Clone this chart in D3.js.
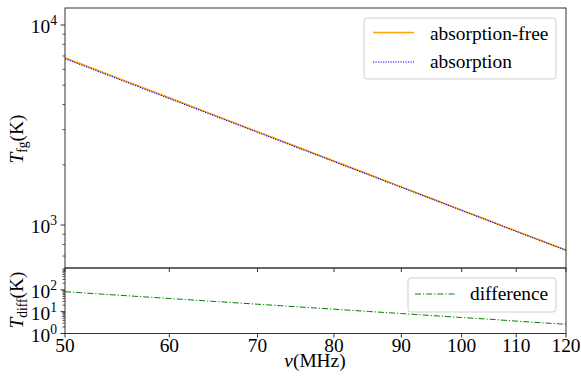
<!DOCTYPE html>
<html>
<head>
  <meta charset="UTF-8">
  <title>Foreground temperature</title>
  <script src="https://d3js.org/d3.v7.min.js"></script>
</head>
<body style="margin:0">
<script>
  // Data
  const freqs = [50, 55, 60, 65, 70, 75, 80, 85, 90, 95, 100, 105, 110, 115, 120];
  const tFree = [6864, 5394, 4328, 3534, 2930, 2461, 2090, 1793, 1551, 1353, 1188, 1050, 933, 835, 750];
  const tAbs = [6782, 5337.6, 4287.9, 3504.7, 2908.1, 2444.3, 2077, 1782.8, 1542.8, 1346.4, 1182.6, 1045.5, 929.3, 831.9, 747.35];
  const tDiff = [82, 56.4, 40.1, 29.3, 21.9, 16.7, 13.0, 10.2, 8.2, 6.6, 5.4, 4.5, 3.7, 3.1, 2.65];
  const xTicks = [50, 60, 70, 80, 90, 100, 110, 120];
  const topMajor = [1000, 10000];
  const bottomMajor = [1, 10, 100];
  const seriesNames = ["absorption-free", "absorption", "difference"];

  const width = 581, height = 379;
  const left = 65, right = 566;
  const topPanel = {y0: 8, y1: 268};
  const botPanel = {y0: 268, y1: 333.5};
  const FONT = '"Liberation Serif"';
  const FS = 19.4;
  const BLUE_DASH = "1.2,1.3";

  const svg = d3.select("body").append("svg")
    .attr("width", width)
    .attr("height", height);

  function txt(parent, xPos, yPos, size) {
    return parent.append("text")
      .attr("x", xPos).attr("y", yPos)
      .style("font-family", FONT)
      .attr("font-size", size);
  }

  const x = d3.scaleLog().domain([50, 120]).range([left, right]);
  const yTop = d3.scaleLog().domain([610, 12160]).range([topPanel.y1, topPanel.y0]);
  const yBot = d3.scaleLog().domain([1, 1000]).range([botPanel.y1, botPanel.y0]);

  // minor ticks for log axes
  function minorTicks(domain) {
    const out = [];
    for (let e = -1; e < 6; e++) {
      for (let m = 2; m < 10; m++) {
        const v = m * Math.pow(10, e);
        if (v >= domain[0] && v <= domain[1]) out.push(v);
      }
    }
    return out;
  }

  function drawPanel(y, panel, majors, showX) {
    const g = svg.append("g");
    g.selectAll(".ymin").data(minorTicks(y.domain())).enter().append("line")
      .attr("x1", left - 2.5).attr("x2", left)
      .attr("y1", d => y(d)).attr("y2", d => y(d))
      .attr("stroke", "#000").attr("stroke-width", 0.7);
    g.selectAll(".ymaj").data(majors).enter().append("line")
      .attr("x1", left - 4.5).attr("x2", left)
      .attr("y1", d => y(d)).attr("y2", d => y(d))
      .attr("stroke", "#000").attr("stroke-width", 0.8);
    majors.forEach(v => {
      const t = txt(g, left - 8, y(v) + 8, FS).attr("text-anchor", "end");
      t.append("tspan").text("10");
      t.append("tspan").attr("font-size", 13.6).attr("dy", -8).text(Math.round(Math.log10(v)));
    });
    g.selectAll(".xt").data(xTicks).enter().append("line")
      .attr("x1", d => x(d)).attr("x2", d => x(d))
      .attr("y1", panel.y1).attr("y2", panel.y1 + 4)
      .attr("stroke", "#000").attr("stroke-width", 0.8);
    if (showX) {
      xTicks.forEach(d => {
        txt(g, x(d), panel.y1 + 18, FS).attr("text-anchor", "middle").text(d);
      });
    }
  }

  drawPanel(yTop, topPanel, topMajor, false);
  drawPanel(yBot, botPanel, bottomMajor, true);

  // lines
  const lineTop = (vals) => d3.line().x((d, i) => x(freqs[i])).y(d => yTop(d))(vals);
  svg.append("path").attr("d", lineTop(tFree))
    .attr("fill", "none").attr("stroke", "orange").attr("stroke-width", 1.5);
  svg.append("path").attr("d", lineTop(tAbs))
    .attr("fill", "none").attr("stroke", "blue").attr("stroke-width", 1.1)
    .attr("stroke-dasharray", BLUE_DASH);
  svg.append("path")
    .attr("d", d3.line().x((d, i) => x(freqs[i])).y(d => yBot(d))(tDiff))
    .attr("fill", "none").attr("stroke", "green").attr("stroke-width", 1)
    .attr("stroke-dasharray", "6,2,1.2,2");

  // frames
  [topPanel, botPanel].forEach(p => {
    svg.append("rect")
      .attr("x", left).attr("y", p.y0)
      .attr("width", right - left).attr("height", p.y1 - p.y0)
      .attr("fill", "none").attr("stroke", "#333").attr("stroke-width", 1);
  });

  // legends
  const leg1 = svg.append("g");
  leg1.append("rect").attr("x", 364).attr("y", 18).attr("width", 192).attr("height", 61)
    .attr("rx", 3).attr("fill", "#fff").attr("fill-opacity", 0.8)
    .attr("stroke", "#d0d0d0").attr("stroke-width", 1);
  leg1.append("line").attr("x1", 373).attr("x2", 414).attr("y1", 32.5).attr("y2", 32.5)
    .attr("stroke", "orange").attr("stroke-width", 1.5);
  leg1.append("line").attr("x1", 373).attr("x2", 414).attr("y1", 62).attr("y2", 62)
    .attr("stroke", "blue").attr("stroke-width", 1.1).attr("stroke-dasharray", BLUE_DASH);
  txt(leg1, 430, 39.5, FS).text(seriesNames[0]);
  txt(leg1, 430, 67.5, FS).text(seriesNames[1]);

  const leg2 = svg.append("g");
  leg2.append("rect").attr("x", 408).attr("y", 278).attr("width", 148).attr("height", 34)
    .attr("rx", 3).attr("fill", "#fff").attr("fill-opacity", 0.8)
    .attr("stroke", "#d0d0d0").attr("stroke-width", 1);
  leg2.append("line").attr("x1", 415).attr("x2", 455).attr("y1", 294).attr("y2", 294)
    .attr("stroke", "green").attr("stroke-width", 1).attr("stroke-dasharray", "6,2,1.2,2");
  txt(leg2, 470, 300, FS).text(seriesNames[2]);

  // axis labels
  function yLabel(cx, cy, sub) {
    const t = txt(svg, 0, 0, FS)
      .attr("transform", `translate(${cx},${cy}) rotate(-90)`)
      .attr("text-anchor", "middle");
    t.append("tspan").attr("font-style", "italic").text("T");
    t.append("tspan").attr("font-size", 13.6).attr("dy", 4).text(sub);
    t.append("tspan").attr("dy", -4).text("(K)");
  }
  yLabel(23, 139, "fg");
  yLabel(23, 300, "diff");

  const xl = txt(svg, 315, 366.5, FS).attr("text-anchor", "middle");
  xl.append("tspan").attr("font-style", "italic").text("ν");
  xl.append("tspan").text("(MHz)");
</script>
</body>
</html>
